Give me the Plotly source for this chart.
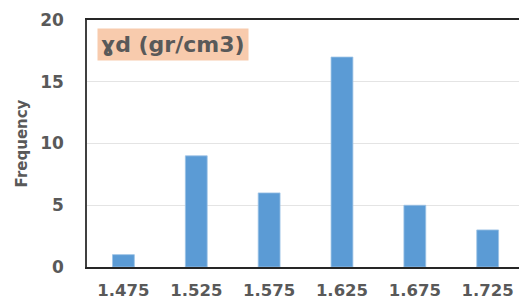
import plotly.graph_objects as go

categories = ["1.475", "1.525", "1.575", "1.625", "1.675", "1.725"]
frequency = [1, 9, 6, 17, 5, 3]
y_ticks = [0, 5, 10, 15, 20]
title_text = "ɣd (gr/cm3)"
y_title = "Frequency"

fig = go.Figure()
fig.add_trace(go.Bar(
    x=categories, y=frequency, width=0.3,
    marker=dict(color="#5b9bd5", line=dict(color="#9dc3e6", width=0.8)),
))

font_fam = "DejaVu Sans"
fig.update_layout(
    width=519, height=301,
    margin=dict(l=87, r=0, t=20, b=34, autoexpand=False),
    plot_bgcolor="white", paper_bgcolor="white",
    showlegend=False,
    font=dict(family=font_fam, color="#595959"),
    xaxis=dict(
        type="category", range=[-0.5, 5.43], automargin=False,
        showline=True, mirror=True, linecolor="#262626", linewidth=1.5,
        showgrid=False, ticks="", ticklen=0,
        tickfont=dict(size=16.5, family=font_fam, weight="bold", color="#595959"),
        ticklabelstandoff=7,
    ),
    yaxis=dict(
        range=[0, 20], tickvals=y_ticks, automargin=False,
        showline=True, mirror=False, linecolor="#404040", linewidth=1.5,
        showgrid=True, gridcolor="#e4e4e4", gridwidth=1,
        zeroline=False, ticks="", ticklen=0,
        tickfont=dict(size=17, family=font_fam, weight="bold", color="#595959"),
        ticklabelstandoff=18,
        title=dict(text=y_title, font=dict(size=15, family=font_fam, weight="bold", color="#595959"), standoff=9),
    ),
    annotations=[dict(
        text=title_text, xref="paper", yref="paper",
        x=0.023, y=0.968, xanchor="left", yanchor="top",
        showarrow=False, bgcolor="#f8cbad", borderpad=3,
        font=dict(size=22, family=font_fam, weight="bold", color="#595959"),
    )],
)

fig.write_html("out.html", config={"displayModeBar": False},
               post_script="document.body.style.margin='0';document.body.style.overflow='hidden';")
